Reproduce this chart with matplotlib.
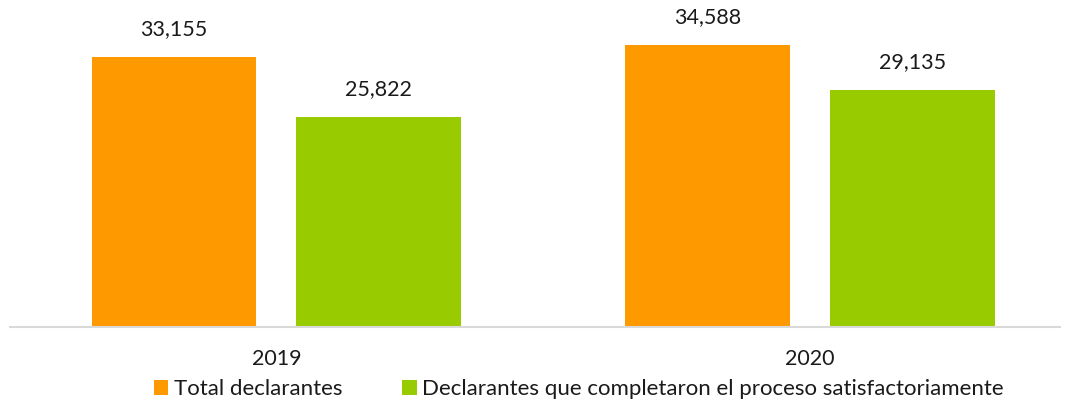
import matplotlib
matplotlib.use("Agg")
import matplotlib.pyplot as plt
import numpy as np

years = ["2019", "2020"]
series_names = ["Total declarantes",
                "Declarantes que completaron el proceso satisfactoriamente"]
total = [33155, 34588]
completed = [25822, 29135]
colors = ["#FF9900", "#99CC00"]

plt.rcParams['font.family'] = ['Lato', 'DejaVu Sans']

fig = plt.figure(figsize=(10.65, 4.04), dpi=100)
ax = fig.add_axes([10 / 1065, (404 - 327) / 404, 1050 / 1065, 327 / 404])

x = np.arange(len(years))
w = 0.309
off = 0.192
b1 = ax.bar(x - off, total, w, color=colors[0], label=series_names[0])
b2 = ax.bar(x + off, completed, w, color=colors[1], label=series_names[1])

for bars in (b1, b2):
    for r in bars:
        v = r.get_height()
        ax.annotate(f"{v:,.0f}", (r.get_x() + r.get_width() / 2, v),
                    xytext=(0, 13), textcoords="offset points",
                    ha="center", va="bottom", fontsize=15.5, color="#1a1a1a")

ax.set_xlim(-0.4995, 1.4686)
ax.set_ylim(0, 40170)
ax.set_xticks(x)
ax.set_xticklabels(years, fontsize=15.5, color="#1a1a1a")
ax.tick_params(axis="x", length=0, pad=16)
ax.set_yticks([])
for s in ["top", "right", "left"]:
    ax.spines[s].set_visible(False)
ax.spines["bottom"].set_color("#D9D9D9")
ax.spines["bottom"].set_linewidth(1.5)

leg = fig.legend(loc="center", bbox_to_anchor=(579 / 1065, (404 - 389) / 404), ncol=2,
                 frameon=False, fontsize=16, handlelength=0.65, handleheight=0.65,
                 handletextpad=0.25, columnspacing=2.7, borderaxespad=0)
for t in leg.get_texts():
    t.set_color("#1a1a1a")

fig.savefig("out.png", dpi=100)
